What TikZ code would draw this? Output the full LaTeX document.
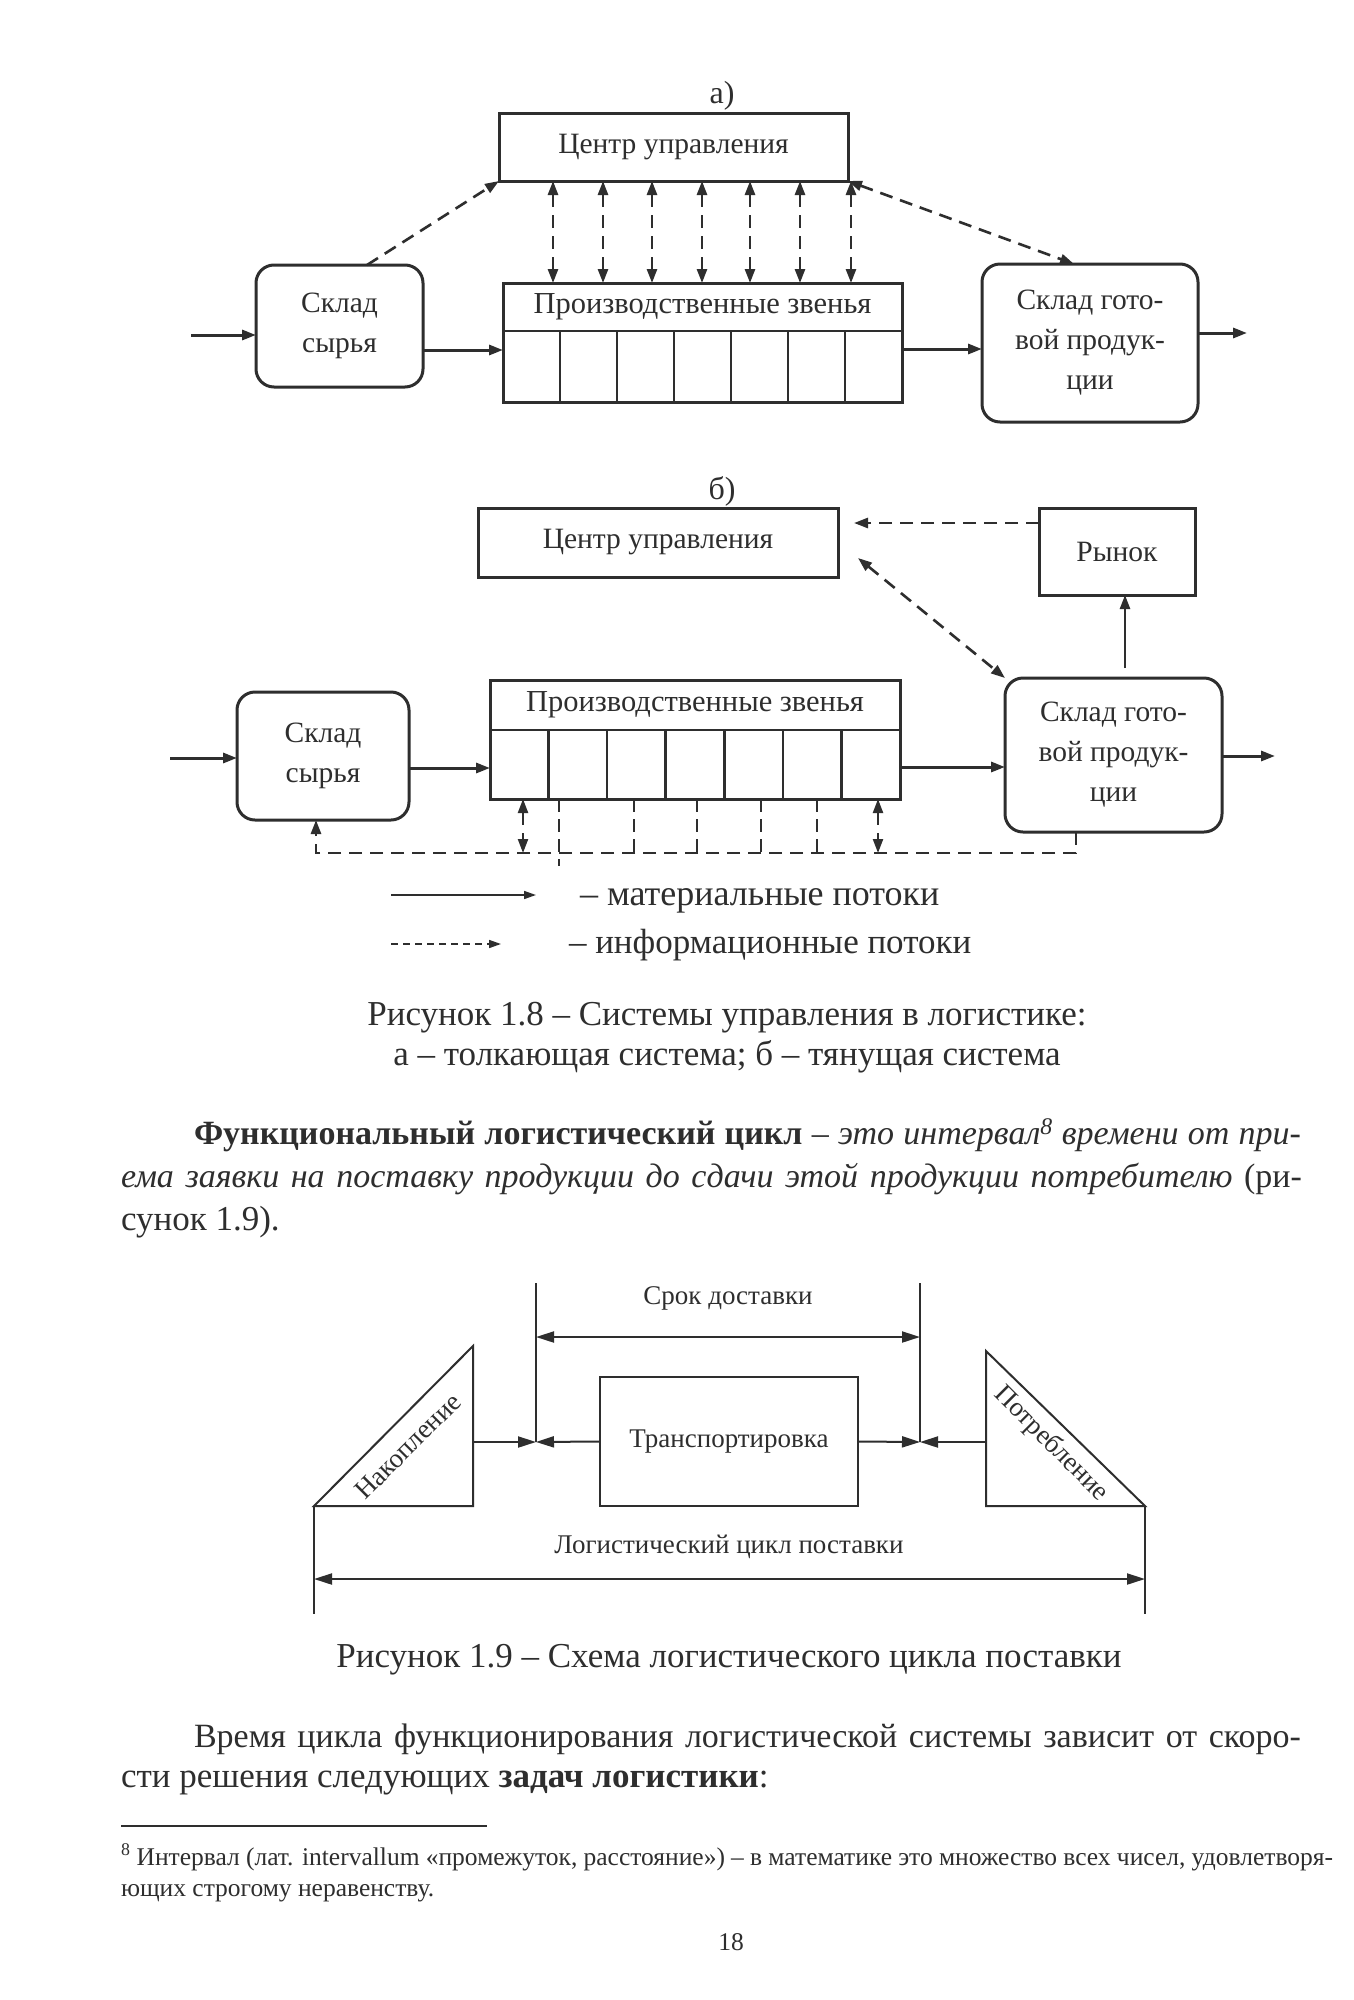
\documentclass[tikz,border=0pt]{standalone}
\usepackage{fontspec}
\setmainfont{Liberation Serif}
\usetikzlibrary{arrows.meta,calc}
\definecolor{ink}{HTML}{2E2E2E}
\begin{document}
\begin{tikzpicture}[x=1pt,y=-1pt,
  >={Triangle[length=14pt,width=10pt]},
  every node/.style={text=ink,inner sep=0pt,outer sep=0pt},
  box/.style={draw=ink,line width=3pt},
  rbox/.style={draw=ink,line width=3pt,rounded corners=18pt},
  dg/.style={font=\fontsize{29.5}{40}\selectfont,align=center},
  mat/.style={draw=ink,line width=3pt,->},
  inf/.style={draw=ink,line width=2.6pt,dash pattern=on 13pt off 8pt,->},
  infb/.style={inf,<->},
  infl/.style={draw=ink,line width=2.2pt,dash pattern=on 13pt off 7pt},
  grid/.style={draw=ink,line width=2.6pt},
  body/.style={font=\fontsize{35}{42}\selectfont},
  small/.style={font=\fontsize{25.5}{30}\selectfont},
  fig/.style={font=\fontsize{27}{32}\selectfont},
  thin/.style={draw=ink,line width=2pt},
  dim/.style={thin,{Triangle[length=18pt,width=11pt]}-{Triangle[length=18pt,width=11pt]}},
  dimr/.style={thin,-{Triangle[length=18pt,width=11pt]}},
  leg/.style={draw=ink,line width=1.6pt,-{Triangle[length=12pt,width=8pt]}},
]
\useasboundingbox[fill=white] (0,0) rectangle (1353,2000);

% ---------------- a) ----------------
\node[dg,font=\fontsize{32}{36}\selectfont] (labA) at (722,96) {а)};
\node[box,dg,minimum width=349pt,minimum height=68pt] (cA) at (673.5,147) {Центр управления};
\node[box,minimum width=399pt,minimum height=119pt] (prodA) at (702.5,342.5) {};
\coordinate (divA) at (0,331);
\draw[grid] (prodA.west |- divA) -- (prodA.east |- divA);
\foreach \k in {1,...,6}
  \draw[grid] ($(prodA.south west)!{\k/7}!(prodA.south east)$) -- ($(prodA.west |- divA)!{\k/7}!(prodA.east |- divA)$);
\node[dg,font=\fontsize{30.5}{40}\selectfont] (prodAt) at ($(prodA.north)!0.5!(prodA.north |- divA)$) {Производственные звенья};
\node[rbox,dg,minimum width=167pt,minimum height=122pt] (sA) at (339.5,326) {Склад\\сырья};
\node[rbox,dg,minimum width=216pt,minimum height=158pt] (gA) at (1090,343) {Склад гото-\\вой продук-\\ции};

\coordinate (inA) at (191,335);
\coordinate (outA) at (1247,333);
\draw[mat] (inA) -- (sA.west |- inA);
\draw[mat] (sA.east |- 0,350) -- (prodA.west |- 0,350);
\draw[mat] (prodA.east |- 0,349) -- (gA.west |- 0,349);
\draw[mat] (gA.east |- outA) -- (outA);

\foreach \x in {553,603,652,702,750,800,851}
  \draw[infb] (cA.south -| \x,0) -- (prodA.north -| \x,0);
\draw[inf] (sA.north -| 367,0) -- (cA.south west);
\draw[infb] (cA.south east) -- (gA.north -| 1074,0);

% ---------------- б) ----------------
\node[dg,font=\fontsize{32}{36}\selectfont] (labB) at (722,491) {б)};
\node[box,dg,minimum width=360pt,minimum height=69pt] (cB) at (658,542.5) {Центр управления};
\node[box,dg,minimum width=156pt,minimum height=87pt] (rB) at (1117,551.5) {Рынок};
\node[box,minimum width=410pt,minimum height=119pt] (prodB) at (695,739.5) {};
\coordinate (divB) at (0,730);
\draw[grid] (prodB.west |- divB) -- (prodB.east |- divB);
\foreach \k in {1,...,6}
  \draw[grid] ($(prodB.south west)!{\k/7}!(prodB.south east)$) -- ($(prodB.west |- divB)!{\k/7}!(prodB.east |- divB)$);
\node[dg,font=\fontsize{30.5}{40}\selectfont] (prodBt) at ($(prodB.north)!0.5!(prodB.north |- divB)$) {Производственные звенья};
\node[rbox,dg,minimum width=172pt,minimum height=128pt] (sB) at (323,756) {Склад\\сырья};
\node[rbox,dg,minimum width=217pt,minimum height=154pt] (gB) at (1113.5,755) {Склад гото-\\вой продук-\\ции};

\coordinate (inB) at (170,758);
\coordinate (outB) at (1275,756);
\draw[mat] (inB) -- (sB.west |- inB);
\draw[mat] (sB.east |- 0,768) -- (prodB.west |- 0,768);
\draw[mat] (prodB.east |- 0,767) -- (gB.west |- 0,767);
\draw[mat] (gB.east |- outB) -- (outB);
\draw[mat,line width=2.4pt,shorten <=10pt] (gB.north -| 1125,0) -- (rB.south -| 1125,0);
\draw[inf] (rB.west |- 0,523) -- ([xshift=16pt]cB.east |- 0,523);
\draw[infb] ([xshift=20pt]cB.east |- 0,558) -- (gB.north west);

\coordinate (fbR) at (1076,853);
\coordinate (fbL) at (316,853);
\draw[inf] (gB.south -| fbR) -- (fbR) -- (fbL) -- (sB.south -| fbL);
\foreach \x in {634,697,761,817}
  \draw[infl] (prodB.south -| \x,0) -- (\x,853);
\draw[infl] (prodB.south -| 559,0) -- (559,866);
\draw[infb,line width=2.2pt] (prodB.south -| 523,0) -- (523,853);
\draw[infb,line width=2.2pt] (prodB.south -| 878,0) -- (878,853);

% legend
\coordinate (l1a) at (391,895); \coordinate (l1b) at (536,895);
\draw[leg] (l1a) -- (l1b);
\node[body,anchor=base west,font=\fontsize{36}{42}\selectfont] (l1t) at (580,905) {– материальные потоки};
\coordinate (l2a) at (391,944); \coordinate (l2b) at (501,944);
\draw[leg,dash pattern=on 7pt off 5pt] (l2a) -- (l2b);
\node[body,anchor=base west] (l2t) at (569,953) {– информационные потоки};

% captions and text
\node[body,anchor=base] (cap1) at (727,1025) {Рисунок 1.8 – Системы управления в логистике:};
\node[body,anchor=base] (cap2) at (727,1065) {а – толкающая система; б – тянущая система};

\node[anchor=base west,font=\fontsize{34}{42}\selectfont] (p1a) at (194,1144) {\makebox[1107pt][s]{\textbf{Функциональный логистический цикл} – \textit{это интервал\textsuperscript{8} времени от при-}}};
\node[anchor=base west,font=\fontsize{34}{42}\selectfont] (p1b) at (121,1187) {\makebox[1181pt][s]{\textit{ема заявки на поставку продукции до сдачи этой продукции потребителю} (ри-}};
\node[body,anchor=base west] (p1c) at (121,1230) {сунок 1.9).};

% ---------------- Figure 1.9 ----------------
\coordinate (nk1) at (314,1506); \coordinate (nk2) at (473,1346); \coordinate (nk3) at (473,1506);
\draw[thin] (nk1) -- (nk2) -- (nk3) -- cycle;
\coordinate (pt1) at (986,1351); \coordinate (pt2) at (1145,1506); \coordinate (pt3) at (986,1506);
\draw[thin] (pt1) -- (pt2) -- (pt3) -- cycle;
\node[thin,draw,minimum width=258pt,minimum height=129pt,fig] (tr) at (729,1441.5) {Транспортировка};
\coordinate (sL) at (536,1283); \coordinate (sLb) at (536,1442);
\coordinate (sR) at (920,1283); \coordinate (sRb) at (920,1442);
\draw[thin] (sL) -- (sLb);
\draw[thin] (sR) -- (sRb);
\node[fig] (srok) at (728,1298) {Срок доставки};
\draw[dim] (sL |- 0,1337) -- (sR |- 0,1337);
\draw[dimr] (nk3 |- sLb) -- (sLb);
\draw[dimr] (tr.west) -- (sLb);
\draw[dimr] (tr.east) -- (sRb);
\draw[dimr] (pt1 |- sRb) -- (sRb);
\coordinate (eL) at (314,1614); \coordinate (eR) at (1145,1614);
\draw[thin] (nk1) -- (eL);
\draw[thin] (pt2) -- (eR);
\node[fig] (lc) at (729,1547) {Логистический цикл поставки};
\draw[dim] (nk1 |- 0,1579) -- (pt2 |- 0,1579);
\node[fig,rotate=45] (nak) at (408,1446) {Накопление};
\node[fig,rotate=-45] (pot) at (1051,1444) {Потребление};

\node[body,anchor=base] (cap3) at (729,1667) {Рисунок 1.9 – Схема логистического цикла поставки};

\node[anchor=base west,font=\fontsize{34}{42}\selectfont] (p2a) at (194,1747) {\makebox[1107pt][s]{Время цикла функционирования логистической системы зависит от скоро-}};
\node[body,anchor=base west] (p2b) at (121,1787) {сти решения следующих \textbf{задач логистики}:};

\draw[draw=ink,line width=1.6pt] (121,1826) coordinate (fr1) -- (487,1826) coordinate (fr2);
\node[small,anchor=base west] (fn1) at (121,1865) {\makebox[1212pt][s]{\textsuperscript{8} Интервал (лат. intervallum «промежуток, расстояние») – в математике это множество всех чисел, удовлетворя-}};
\node[small,anchor=base west] (fn2) at (121,1896) {ющих строгому неравенству.};

\node[small,anchor=base] (pg) at (731,1950) {18};
\end{tikzpicture}
\end{document}
